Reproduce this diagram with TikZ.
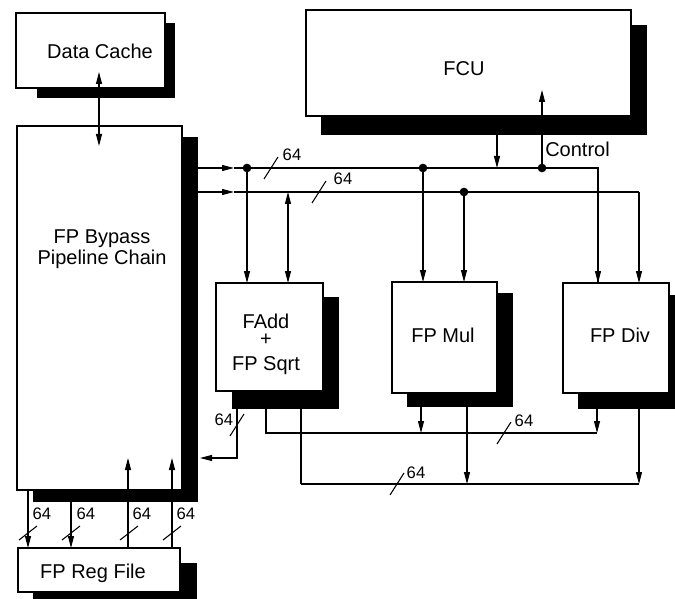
\documentclass[tikz,border=0pt]{standalone}
\usepackage{fontspec}
\setmainfont{Liberation Sans}
\usetikzlibrary{fit,arrows.meta}
\begin{document}
\begin{tikzpicture}[x=0.75pt,y=-0.75pt,
  box/.style={draw, fill=white, line width=0.9pt, inner sep=0pt},
  shadowbox/.style={fill=black},
  lbl/.style={font=\fontsize{15}{15.75}\selectfont, inner sep=0pt, align=center, anchor=base},
  num/.style={font=\fontsize{12.5}{13}\selectfont, inner sep=0pt},
  wire/.style={line width=0.8pt},
  thickwire/.style={line width=1.7pt},
  arr/.style={wire, -{Triangle[length=9pt,width=4.5pt]}},
  darr/.style={wire, {Triangle[length=9pt,width=4.5pt]}-{Triangle[length=9pt,width=4.5pt]}},
  dot/.style={circle, fill=black, inner sep=0pt, minimum size=6.5pt},
  busslash/.pic={\draw[wire] (-7,11) -- (7,-11);},
  regslash/.pic={\draw[wire] (-9,7) -- (9,-7);}
]
\useasboundingbox (0,0) rectangle (675,599);
\clip (0,0) rectangle (675,599);

% shadows
\fill[shadowbox] (37,23) rectangle (175,98);
\fill[shadowbox] (321,25) rectangle (647,135);
\fill[shadowbox] (33,137) rectangle (198,502);
\fill[shadowbox] (33,563) rectangle (197,610);
\fill[shadowbox] (232,297) rectangle (339,409);
\fill[shadowbox] (407,293) rectangle (513,407);
\fill[shadowbox] (578,295) rectangle (690,409);

% boxes
\node[box, fit={(16,13)(165,88)}] (dc) {};
\node[lbl] (dct) at (100,59) {Data Cache};
\node[box, fit={(306,10)(631,116)}] (fcu) {};
\node[lbl] (fcut) at (464,76) {FCU};
\node[box, fit={(17,126)(182,490)}] (bp) {};
\node[lbl] (bpt) at (102,264) {FP Bypass\\Pipeline Chain};
\node[box, fit={(18,548)(180,592)}] (rf) {};
\node[lbl] (rft) at (93,578) {FP Reg File};
\node[box, fit={(216,283)(323,391)}] (fa) {};
\node[lbl] (fat) at (266,370) {FAdd\\[-3pt]+\\[3pt]FP Sqrt};
\node[box, fit={(392,282)(497,393)}] (fm) {};
\node[lbl] (fmt) at (443,342) {FP Mul};
\node[box, fit={(563,283)(669,393)}] (fd) {};
\node[lbl] (fdt) at (620,342) {FP Div};

% coordinates
\coordinate (dcA) at (99,72);
\coordinate (dcB) at (99,146);
\coordinate (b1s) at (198,168);
\coordinate (b1a) at (234,168);
\coordinate (b1e) at (598,168);
\coordinate (b2s) at (198,192);
\coordinate (b2a) at (234,192);
\coordinate (b2e) at (639,192);
\node[dot] (j1) at (247,168) {};
\node[dot] (j2) at (423,168) {};
\node[dot] (j3) at (542,168) {};
\node[dot] (j4) at (464,192) {};
\coordinate (faIn1) at (247,283);
\coordinate (faIn2t) at (288,192);
\coordinate (faIn2) at (288,283);
\coordinate (fmIn1) at (423,282);
\coordinate (fmIn2) at (464,282);
\coordinate (fdIn1) at (598,283);
\coordinate (fdIn2) at (639,283);
\coordinate (fcuOut) at (497,135);
\coordinate (fcuOutEnd) at (497,168);
\coordinate (ctrlTip) at (542,90);

% data cache <-> bypass
\draw[darr] (dcA) -- (dcB);

% top buses
\draw[arr] (b1s) -- (b1a);
\draw[wire] (b1a) -- (b1e) -- (fdIn1);
\draw[arr] (b1e) -- (fdIn1);
\draw[arr] (b2s) -- (b2a);
\draw[wire] (b2a) -- (b2e);
\draw[arr] (b2e) -- (fdIn2);
\draw[arr] (j1.center) -- (faIn1);
\draw[darr] (faIn2t) -- (faIn2);
\draw[arr] (j2.center) -- (fmIn1);
\draw[arr] (j4.center) -- (fmIn2);
\draw[arr] (fcuOut) -- (fcuOutEnd);
\draw[arr] (j3.center) -- (ctrlTip);
\node[lbl, anchor=base west] (ctrl) at (545,157) {Control};

\pic at (271,168) {busslash};
\node[num] (n1) at (292,155) {64};
\pic at (319,192) {busslash};
\node[num] (n2) at (343,179) {64};

% bypass <-> reg file
\coordinate (r1a) at (28,490); \coordinate (r1b) at (28,548);
\coordinate (r2a) at (71,490); \coordinate (r2b) at (71,548);
\coordinate (r3a) at (128,548); \coordinate (r3b) at (128,458);
\coordinate (r4a) at (172,548); \coordinate (r4b) at (172,458);
\draw[arr] (r1a) -- (r1b);
\draw[arr] (r2a) -- (r2b);
\draw[arr] (r3a) -- (r3b);
\draw[arr] (r4a) -- (r4b);
\pic at (28,533) {regslash};
\pic at (71,533) {regslash};
\pic at (129,533) {regslash};
\pic at (172,533) {regslash};
\node[num] (n3) at (42,514) {64};
\node[num] (n4) at (86,514) {64};
\node[num] (n5) at (142,514) {64};
\node[num] (n6) at (186,514) {64};

% FAdd result back to bypass
\coordinate (fo1) at (237,409);
\coordinate (fo1c) at (237,458);
\coordinate (bpIn) at (200,458);
\draw[arr] (fo1) -- (fo1c) -- (bpIn);
\pic at (237,425) {busslash};
\node[num] (n7) at (224,420) {64};

% bus A
\coordinate (aS) at (266,409);
\coordinate (aC) at (266,433);
\coordinate (aE) at (597,433);
\coordinate (fmA) at (421,407);
\coordinate (fmAe) at (421,433);
\coordinate (fdA) at (597,409);
\draw[wire] (aS) -- (aC) -- (aE);
\draw[arr] (fmA) -- (fmAe);
\draw[arr] (fdA) -- (aE);
\pic at (504,433) {busslash};
\node[num] (n8) at (524,421) {64};

% bus B
\coordinate (bS) at (301,409);
\coordinate (bC) at (301,484);
\coordinate (bE) at (639,484);
\coordinate (fmB) at (467,407);
\coordinate (fmBe) at (467,484);
\coordinate (fdB) at (639,409);
\draw[thickwire] (bS) -- (bC);
\draw[wire] (bC) -- (bE);
\draw[arr] (fmB) -- (fmBe);
\draw[arr] (fdB) -- (bE);
\pic at (397,484) {busslash};
\node[num] (n9) at (416,473) {64};
\end{tikzpicture}
\end{document}
